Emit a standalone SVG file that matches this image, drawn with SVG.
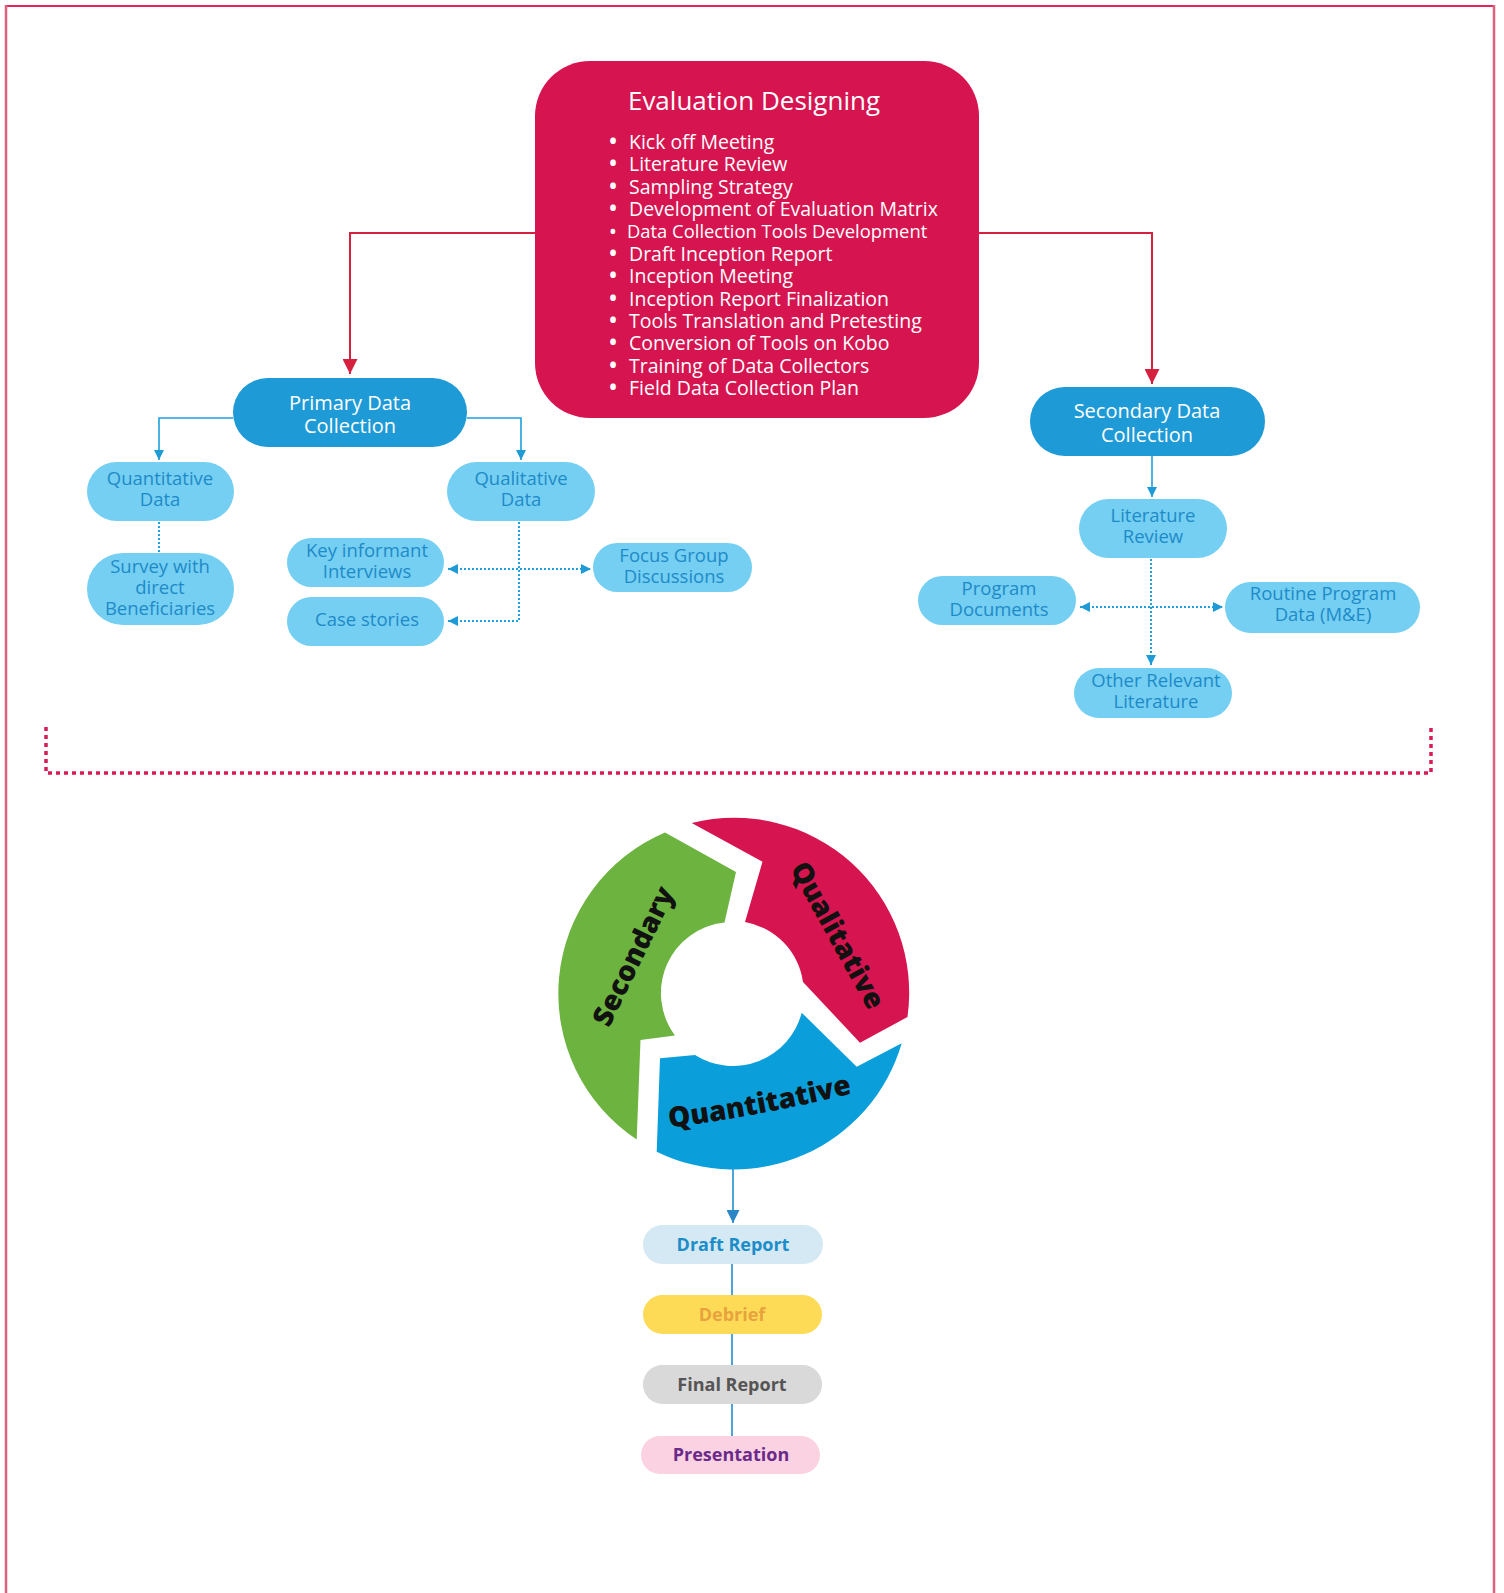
<svg xmlns="http://www.w3.org/2000/svg" width="1504" height="1593" viewBox="0 0 1504 1593">
<style>
  text { font-family: "Open Sans", "Noto Sans", "Liberation Sans", sans-serif; }
  .title { fill: #ffffff; font-size: 26px; text-anchor: middle; }
  .bul { fill: #ffffff; font-size: 19.5px; }
  .dotb { fill: #ffffff; font-size: 27px; text-anchor: middle; }
  .dark { fill: #1E9AD6; }
  .darkt { fill: #ffffff; font-size: 20px; text-anchor: middle; }
  .light { fill: #74CFF2; }
  .lightt { fill: #1F8AC8; font-size: 18.5px; text-anchor: middle; }
  .red-line { fill: none; stroke: #D62040; stroke-width: 2; }
  .blue-line { fill: none; stroke: #1EA0DC; stroke-width: 1.6; }
  .dot-line { fill: none; stroke: #1EA0DC; stroke-width: 2; stroke-dasharray: 2 2; }
  .bracket { fill: none; stroke: #D81B55; stroke-width: 3.5; stroke-dasharray: 4 4; }
  .cyc { fill: #111111; font-size: 28px; font-weight: 800; text-anchor: middle; }
  .step { font-size: 18px; font-weight: 700; text-anchor: middle; }
  .stem { fill: none; stroke: #3A9BD5; stroke-width: 1.8; }
</style>
<defs>
  <marker id="redArrow" viewBox="0 0 10 10" refX="10" refY="5" markerWidth="15" markerHeight="15" markerUnits="userSpaceOnUse" orient="auto">
    <path d="M0,0 L10,5 L0,10 z" fill="#D62040"/>
  </marker>
  <marker id="blueArrow" viewBox="0 0 10 10" refX="10" refY="5" markerWidth="10" markerHeight="10" markerUnits="userSpaceOnUse" orient="auto-start-reverse">
    <path d="M0,0 L10,5 L0,10 z" fill="#1E9AD6"/>
  </marker>
  <marker id="stemArrow" viewBox="0 0 10 10" refX="10" refY="5" markerWidth="13" markerHeight="13" markerUnits="userSpaceOnUse" orient="auto">
    <path d="M0,0 L10,5 L0,10 z" fill="#2A86C4"/>
  </marker>
</defs>

<rect x="0" y="0" width="1504" height="1593" fill="#ffffff"/>

<g id="border">
  <line x1="6" y1="6" x2="1495" y2="6" stroke="#E8245A" stroke-width="2"/>
  <line x1="6" y1="5" x2="6" y2="1593" stroke="#E0607F" stroke-width="2.5"/>
  <line x1="1494" y1="5" x2="1494" y2="1593" stroke="#E0607F" stroke-width="2.5"/>
</g>

<g id="connectors">
  <path class="red-line" d="M535 233 H350 V374" marker-end="url(#redArrow)"/>
  <path class="red-line" d="M979 233 H1152 V384" marker-end="url(#redArrow)"/>
  <path class="blue-line" d="M233 418 H159 V460" marker-end="url(#blueArrow)"/>
  <path class="blue-line" d="M467 418 H521 V460" marker-end="url(#blueArrow)"/>
  <path class="dot-line" d="M159 522 V553"/>
  <path class="dot-line" d="M519 522 V621 H448" marker-end="url(#blueArrow)"/>
  <path class="dot-line" d="M448 569 H591" marker-start="url(#blueArrow)" marker-end="url(#blueArrow)"/>
  <path class="blue-line" d="M1152 456 V497" marker-end="url(#blueArrow)"/>
  <path class="dot-line" d="M1151 559 V665" marker-end="url(#blueArrow)"/>
  <path class="dot-line" d="M1080 607 H1223" marker-start="url(#blueArrow)" marker-end="url(#blueArrow)"/>
  <path class="bracket" d="M46 727 V773 H1431 V727"/>
  <path class="stem" d="M733 1168 V1223" marker-end="url(#stemArrow)"/>
  <path class="stem" d="M732 1264 V1295"/>
  <path class="stem" d="M732 1334 V1365"/>
  <path class="stem" d="M732 1404 V1436"/>
</g>

<g id="evaluation-designing">
  <rect x="535" y="61" width="444" height="357" rx="55" fill="#D61450"/>
  <text class="title" x="754" y="110">Evaluation Designing</text>
  <text class="dotb"><tspan x="613" y="151">•</tspan><tspan x="613" y="173.4">•</tspan><tspan x="613" y="195.7">•</tspan><tspan x="613" y="218.1">•</tspan><tspan x="613" y="239.4" font-size="22">•</tspan><tspan x="613" y="262.8">•</tspan><tspan x="613" y="285.2">•</tspan><tspan x="613" y="307.5">•</tspan><tspan x="613" y="329.9">•</tspan><tspan x="613" y="352.2">•</tspan><tspan x="613" y="374.6">•</tspan><tspan x="613" y="397">•</tspan></text>
  <text class="bul">
    <tspan x="629" y="149">Kick off Meeting</tspan>
    <tspan x="629" y="171.4">Literature Review</tspan>
    <tspan x="629" y="193.7">Sampling Strategy</tspan>
    <tspan x="629" y="216.1">Development of Evaluation Matrix</tspan>
    <tspan x="627" y="238.4" font-size="18.4">Data Collection Tools Development</tspan>
    <tspan x="629" y="260.8">Draft Inception Report</tspan>
    <tspan x="629" y="283.2">Inception Meeting</tspan>
    <tspan x="629" y="305.5">Inception Report Finalization</tspan>
    <tspan x="629" y="327.9">Tools Translation and Pretesting</tspan>
    <tspan x="629" y="350.2">Conversion of Tools on Kobo</tspan>
    <tspan x="629" y="372.6">Training of Data Collectors</tspan>
    <tspan x="629" y="395">Field Data Collection Plan</tspan>
  </text>
</g>

<g id="primary-data-collection">
  <rect class="dark" x="233" y="378" width="234" height="69" rx="34.5"/>
  <text class="darkt"><tspan x="350" y="410">Primary Data</tspan><tspan x="350" y="433">Collection</tspan></text>
</g>
<g id="secondary-data-collection">
  <rect class="dark" x="1030" y="387" width="235" height="69" rx="34.5"/>
  <text class="darkt"><tspan x="1147" y="418">Secondary Data</tspan><tspan x="1147" y="442">Collection</tspan></text>
</g>

<g id="quantitative-data">
  <rect class="light" x="87" y="462" width="147" height="59" rx="29.5"/>
  <text class="lightt"><tspan x="160" y="485">Quantitative</tspan><tspan x="160" y="506">Data</tspan></text>
</g>
<g id="qualitative-data">
  <rect class="light" x="447" y="462" width="148" height="59" rx="29.5"/>
  <text class="lightt"><tspan x="521" y="485">Qualitative</tspan><tspan x="521" y="506">Data</tspan></text>
</g>
<g id="survey">
  <rect class="light" x="87" y="553" width="147" height="72" rx="36"/>
  <text class="lightt"><tspan x="160" y="573">Survey with</tspan><tspan x="160" y="594">direct</tspan><tspan x="160" y="615">Beneficiaries</tspan></text>
</g>
<g id="key-informant-interviews">
  <rect class="light" x="287" y="538" width="157" height="49" rx="24.5"/>
  <text class="lightt"><tspan x="367" y="557">Key informant</tspan><tspan x="367" y="578">Interviews</tspan></text>
</g>
<g id="case-stories">
  <rect class="light" x="287" y="597" width="157" height="49" rx="24.5"/>
  <text class="lightt"><tspan x="367" y="626">Case stories</tspan></text>
</g>
<g id="focus-group-discussions">
  <rect class="light" x="593" y="543" width="159" height="49" rx="24.5"/>
  <text class="lightt"><tspan x="674" y="562">Focus Group</tspan><tspan x="674" y="583">Discussions</tspan></text>
</g>

<g id="literature-review">
  <rect class="light" x="1079" y="499" width="148" height="59" rx="29.5"/>
  <text class="lightt"><tspan x="1153" y="522">Literature</tspan><tspan x="1153" y="543">Review</tspan></text>
</g>
<g id="program-documents">
  <rect class="light" x="918" y="576" width="158" height="49" rx="24.5"/>
  <text class="lightt"><tspan x="999" y="595">Program</tspan><tspan x="999" y="616">Documents</tspan></text>
</g>
<g id="routine-program-data">
  <rect class="light" x="1225" y="582" width="195" height="51" rx="25.5"/>
  <text class="lightt"><tspan x="1323" y="600">Routine Program</tspan><tspan x="1323" y="621">Data (M&amp;E)</tspan></text>
</g>
<g id="other-relevant-literature">
  <rect class="light" x="1074" y="668" width="158" height="50" rx="25"/>
  <text class="lightt"><tspan x="1156" y="687">Other Relevant</tspan><tspan x="1156" y="708">Literature</tspan></text>
</g>

<g id="cycle-secondary">
  <path fill="#6DB33F" d="M665 832.5 L736 872 L724.5 922.5 A71 71 0 0 0 675 1035.5 L640.5 1040 L636.7 1139.5 A175 175 0 0 1 665 832.5 Z"/>
  <text class="cyc" transform="translate(633 956) rotate(-64)" x="0" y="10">Secondary</text>
</g>
<g id="cycle-qualitative">
  <path fill="#D61450" d="M691.7 823 L762.5 861.7 L745 922 A71 71 0 0 1 803 982 L860 1042.7 L907.5 1017 A175 175 0 0 0 691.7 823 Z"/>
  <text class="cyc" transform="translate(838 935) rotate(61)" x="0" y="10">Qualitative</text>
</g>
<g id="cycle-quantitative">
  <path fill="#0A9FDB" d="M901.7 1043.3 L856.7 1066.7 L801.7 1012.7 A71 71 0 0 1 695 1055 L660 1058.3 L656.7 1151.7 A175 175 0 0 0 901.7 1043.3 Z"/>
  <path id="qpath" d="M668 1128 Q760 1116 854 1093" fill="none"/>
  <text class="cyc"><textPath href="#qpath" startOffset="50%">Quantitative</textPath></text>
</g>

<g id="draft-report">
  <rect x="643" y="1225" width="180" height="39" rx="19.5" fill="#D4E9F3"/>
  <text class="step" x="733" y="1251" fill="#1D8DC9">Draft Report</text>
</g>
<g id="debrief">
  <rect x="643" y="1295" width="179" height="39" rx="19.5" fill="#FDDB57"/>
  <text class="step" x="732" y="1321" fill="#E8A33D">Debrief</text>
</g>
<g id="final-report">
  <rect x="643" y="1365" width="179" height="39" rx="19.5" fill="#D9D9D9"/>
  <text class="step" x="732" y="1391" fill="#555555">Final Report</text>
</g>
<g id="presentation">
  <rect x="641" y="1436" width="179" height="38" rx="19" fill="#FAD2E1"/>
  <text class="step" x="731" y="1461" fill="#6B2A8A">Presentation</text>
</g>
</svg>
